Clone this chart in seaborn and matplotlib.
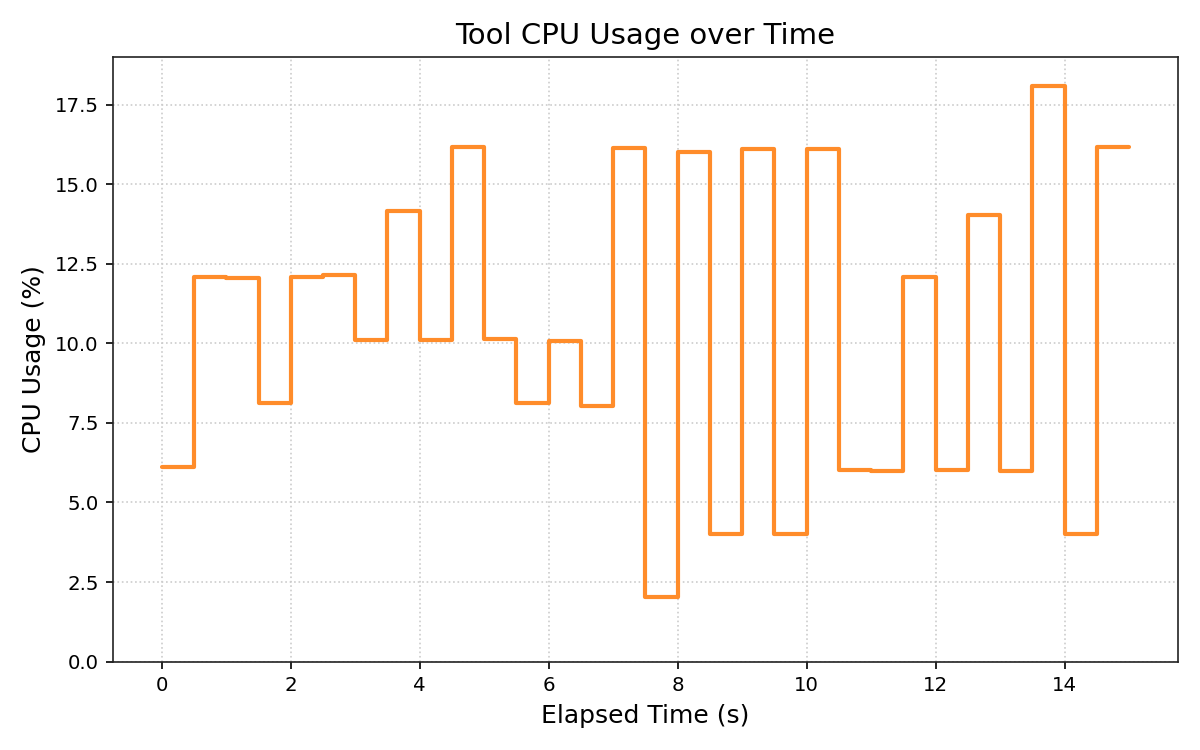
import matplotlib
matplotlib.use("Agg")
import matplotlib.pyplot as plt
import seaborn as sns
import pandas as pd

elapsed_time = [0.0, 0.5, 1.0, 1.5, 2.0, 2.5, 3.0, 3.5, 4.0, 4.5, 5.0,
                5.5, 6.0, 6.5, 7.0, 7.5, 8.0, 8.5, 9.0, 9.5, 10.0,
                10.5, 11.0, 11.5, 12.0, 12.5, 13.0, 13.5, 14.0, 14.5, 15.0]
cpu_usage = [6.1, 12.1, 12.05, 8.12, 12.1, 12.15, 10.12, 14.15, 10.12, 16.17, 10.15,
             8.12, 10.08, 8.03, 16.14, 2.02, 16.02, 4.0, 16.11, 4.0, 16.11,
             6.03, 5.99, 12.09, 6.02, 14.03, 5.99, 18.1, 4.0, 16.17, 16.17]

df = pd.DataFrame({"Elapsed Time (s)": elapsed_time, "CPU Usage (%)": cpu_usage})

sns.set_style("ticks", {"text.color": "black", "axes.labelcolor": "black",
                        "xtick.color": "black", "ytick.color": "black",
                        "axes.edgecolor": "#222222"})
plt.rcParams['font.family'] = ['DejaVu Sans']

fig, ax = plt.subplots(figsize=(8, 5), dpi=150)
sns.lineplot(data=df, x="Elapsed Time (s)", y="CPU Usage (%)", ax=ax,
             drawstyle="steps-post", color="#ff8c2a", linewidth=2.0,
             estimator=None, errorbar=None)
ax.set_ylim(0, 19)
ax.set_title("Tool CPU Usage over Time", fontsize=14, color="black")
ax.set_xlabel("Elapsed Time (s)", fontsize=12, color="black")
ax.set_ylabel("CPU Usage (%)", fontsize=12, color="black")
ax.tick_params(labelsize=9.5, colors="black")
ax.grid(True, linestyle=":", color="#cccccc", linewidth=0.8)
ax.set_axisbelow(True)
fig.tight_layout()
fig.savefig("out.png", dpi=150)
